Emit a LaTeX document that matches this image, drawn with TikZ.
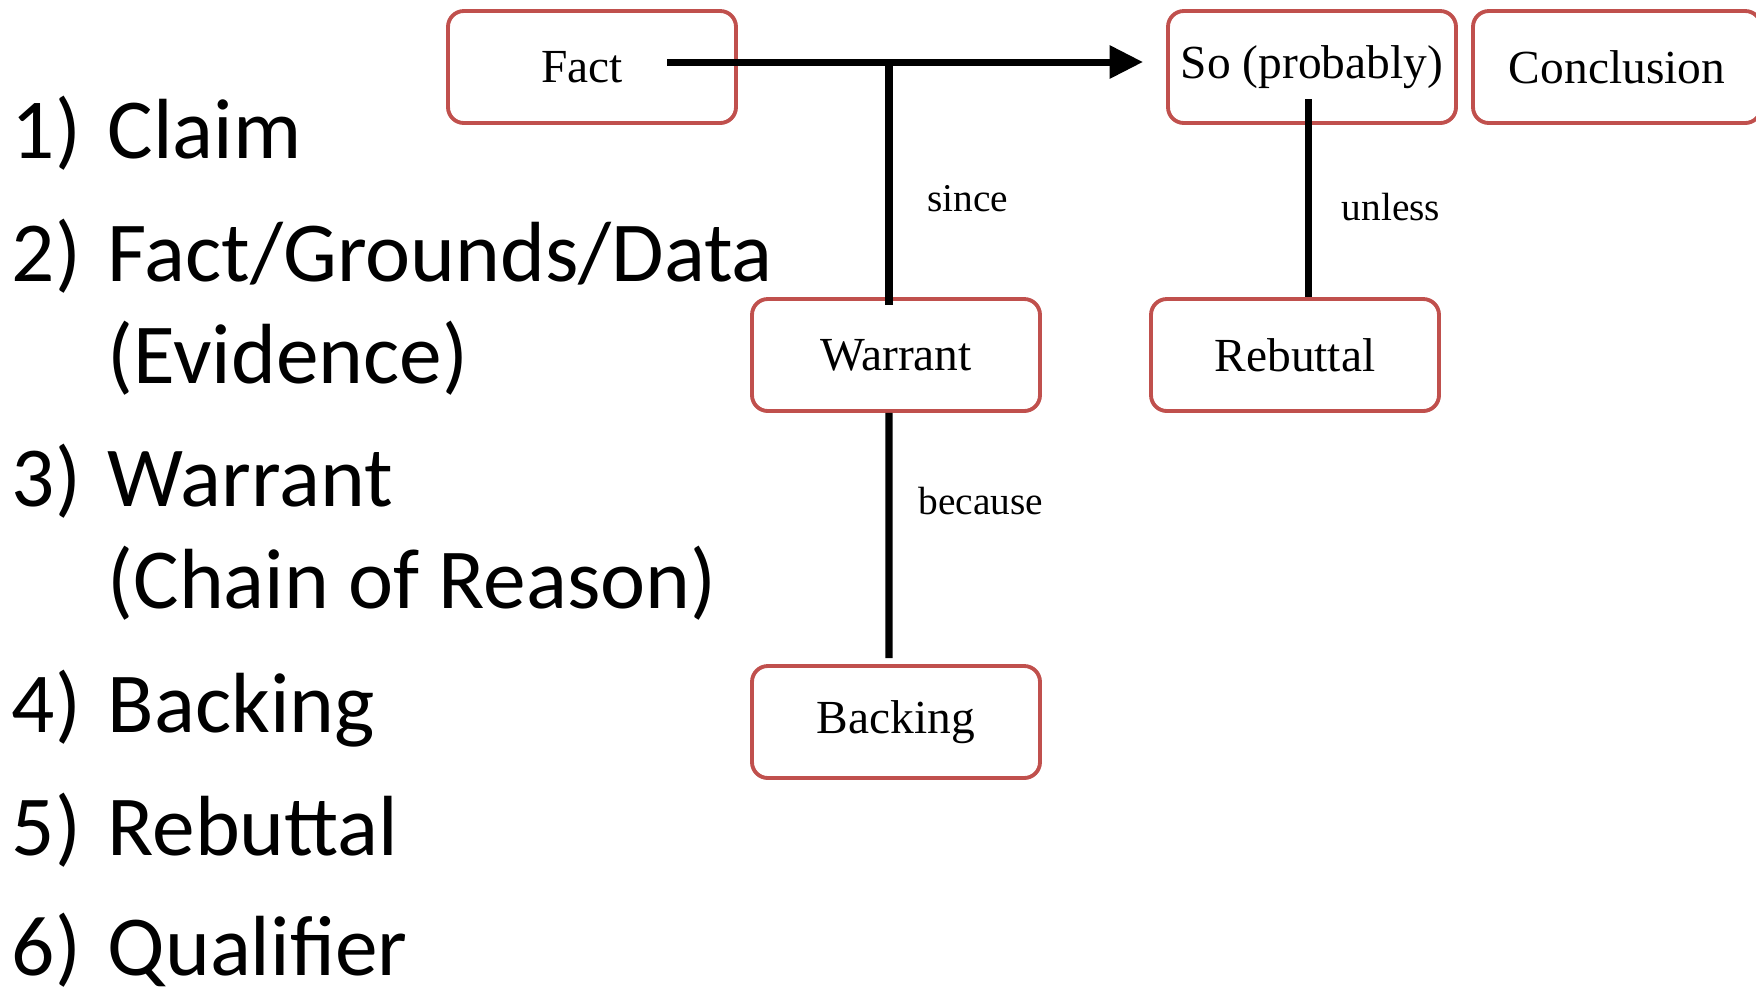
\documentclass[tikz,border=0pt]{standalone}
\usepackage{fontspec}
\setmainfont{Liberation Serif}
\newfontfamily\listfont{Carlito}
\usepackage{xcolor}
\usetikzlibrary{arrows.meta,positioning}
\definecolor{boxred}{HTML}{C0504D}

\begin{document}
\begin{tikzpicture}[
  x=0.1mm, y=-0.1mm,
  part/.style={draw=boxred, line width=1.1pt, rounded corners=4.5pt, align=center, inner sep=0pt, minimum width=28.8mm, minimum height=11.2mm, font=\fontsize{13.5}{16}\selectfont},
  link/.style={line width=2pt},
  cue/.style={inner sep=0pt, font=\fontsize{11.2}{13}\selectfont},
  item/.style={anchor=base west, inner sep=0pt, font=\listfont\fontsize{24.3}{29}\selectfont}
]
\useasboundingbox (0,0) rectangle (1756,991);

% left list
\node[item] (n1) at (11,158) {1)};
\node[item] (t1) at (107,158) {Claim};
\node[item] (n2) at (11,281) {2)};
\node[item] (t2) at (107,281) {Fact/Grounds/Data};
\node[item] (t2b) at (107,383) {(Evidence)};
\node[item] (n3) at (11,506) {3)};
\node[item] (t3) at (107,506) {Warrant};
\node[item] (t3b) at (107,608) {(Chain of Reason)};
\node[item] (n4) at (11,732) {4)};
\node[item] (t4) at (107,732) {Backing};
\node[item] (n5) at (11,855) {5)};
\node[item] (t5) at (107,855) {Rebuttal};
\node[item] (n6) at (11,975) {6)};
\node[item] (t6) at (107,975) {Qualifier};

% boxes
\node[part] (fact) at (592,67) {Fact\hspace*{2mm}};
\node[part] (so) at (1312,67) {So (probably)};
\node[part] (concl) at (1617,67) {Conclusion};
\node[part] (warrant) at (896,355) {Warrant};
\node[part] (rebuttal) at (1295,355) {Rebuttal};
\node[part] (backing) at (896,722) {Backing};

% connectors
\coordinate (join) at (889,62);
\coordinate (drop) at ([xshift=-0.4mm, yshift=-3.2mm]so.center);
\draw[link, -{Triangle[length=9.5pt, width=9pt]}] ([xshift=7.5mm, yshift=0.5mm]fact.center) -- ([xshift=-2.3mm, yshift=0.5mm]so.west);
\draw[link] (join) -- ([yshift=-0.8mm]join |- warrant.north);
\draw[link] (join |- warrant.south) -- ([xshift=-0.7mm, yshift=0.6mm]backing.north);
\draw[link] (drop) -- (drop |- rebuttal.north);

% labels
\node[cue] (since) at (968,199) {since};
\node[cue] (because) at (981,501) {because};
\node[cue] (unless) at (1391,207) {unless};
\end{tikzpicture}
\end{document}
